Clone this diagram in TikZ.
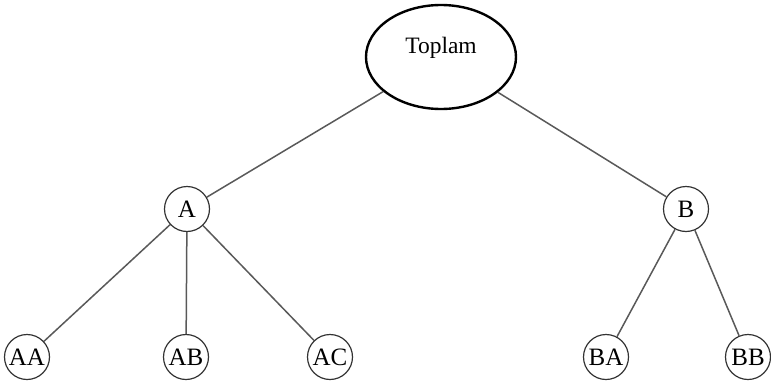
\documentclass[tikz,border=0pt]{standalone}
\usepackage{fontspec}
\setmainfont{Liberation Serif}
\usetikzlibrary{shapes.geometric}
\tikzset{
  leaf/.style={circle, draw=black!80, line width=1.2pt, minimum size=45pt, inner sep=0pt, font=\fontsize{25}{27}\selectfont},
  root/.style={ellipse, draw=black, line width=2.4pt, minimum width=150pt, minimum height=104pt, inner sep=0pt},
  branch/.style={draw=black!65, line width=1.5pt}
}
\begin{document}
\begin{tikzpicture}[x=1pt, y=-1pt]
		%%%%% START %%%%%
		\useasboundingbox (0, 0) rectangle (771, 383);
		
		\node[root, label={[yshift=9pt, font=\fontsize{23.5}{26}\selectfont]center:Toplam}] (toplam) at (441, 57) {};
		
		\node[leaf] (a) at (187, 209) {A};
		\node[leaf] (b) at (686, 209) {B};
		
		\node[leaf] (aa) at (27, 357) {AA};
		\node[leaf] (ab) at (186, 357) {AB};
		\node[leaf] (ac) at (330, 357) {AC};
		
		\node[leaf] (ba) at (606, 357) {BA};
		\node[leaf] (bb) at (748, 357) {BB};
		
		\draw[branch] (toplam) -- (a);
		\draw[branch] (toplam) -- (b);
		
		\draw[branch] (a) -- (aa);
		\draw[branch] (a) -- (ab);
		\draw[branch] (a) -- (ac);
		
		\draw[branch] (b) -- (ba);
		\draw[branch] (b) -- (bb);
		
		%%%%% END %%%%%
	\end{tikzpicture}
\end{document}
